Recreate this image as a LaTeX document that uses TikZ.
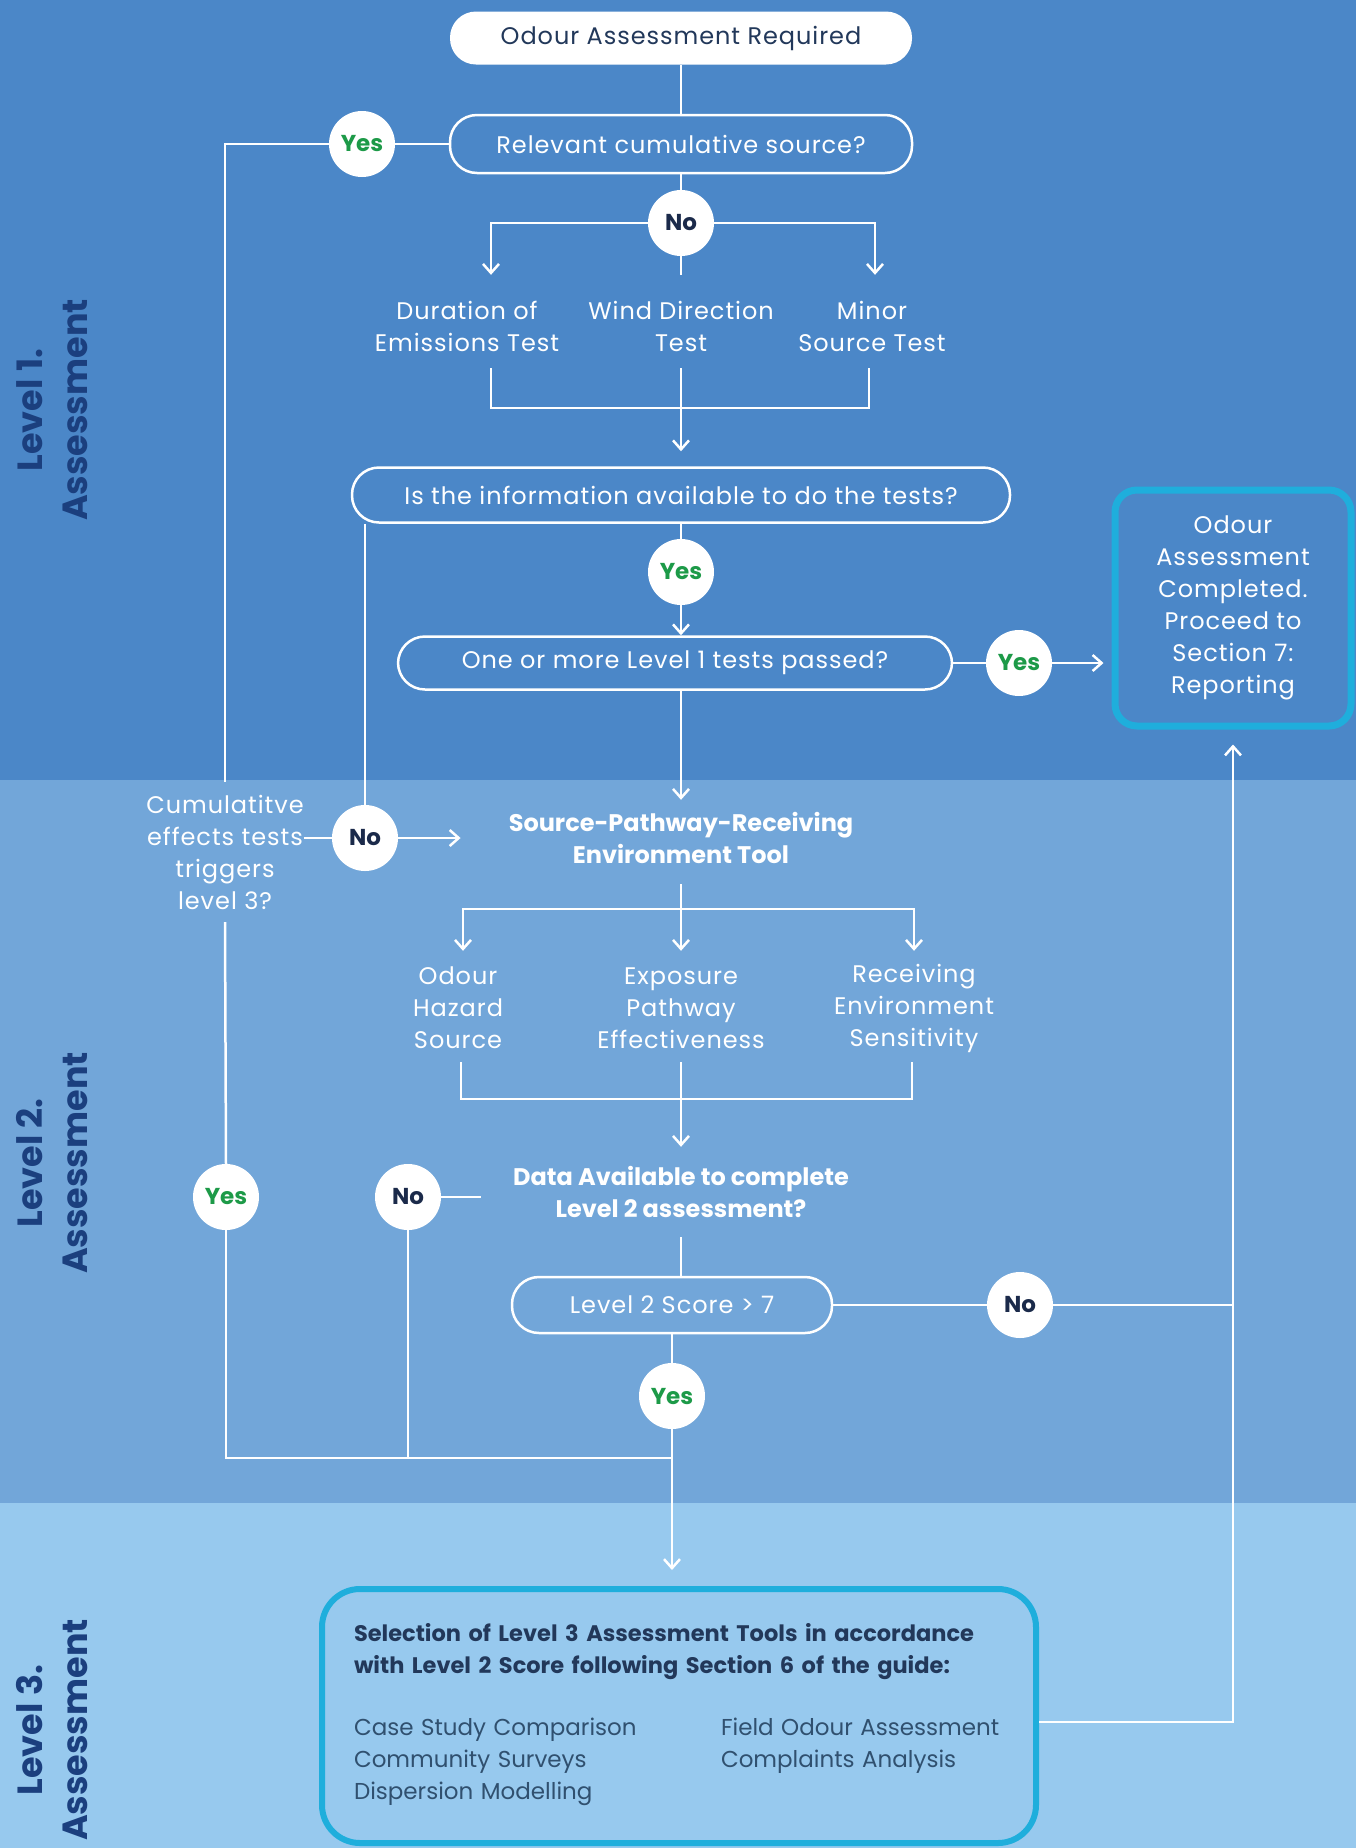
\documentclass[tikz,border=0pt]{standalone}
\usepackage{fontspec}
\setmainfont{Poppins}
\usetikzlibrary{arrows.meta, positioning}

\definecolor{levelone}{HTML}{4B87C8}
\definecolor{leveltwo}{HTML}{72A6D9}
\definecolor{levelthree}{HTML}{97C9EE}
\definecolor{cyanline}{HTML}{1FAEDC}
\definecolor{labelnavy}{HTML}{1B3F7E}
\definecolor{yesgreen}{HTML}{1D9A48}
\definecolor{nonavy}{HTML}{1B2A4A}
\definecolor{darktext}{HTML}{22385A}
\definecolor{listtext}{HTML}{30506F}

\newcommand{\flowfont}{\fontsize{24}{32}\selectfont\addfontfeature{LetterSpace=4}}
\newcommand{\flowbold}{\fontsize{24}{32}\selectfont\bfseries}

\tikzstyle{startbox} = [rectangle, rounded corners=26pt, minimum width=462pt, minimum height=53pt, text centered, fill=white, text=darktext, font=\flowfont]
\tikzstyle{question} = [rectangle, rounded corners=27pt, minimum height=55pt, text centered, draw=white, line width=2.5pt, text=white, font=\flowfont]
\tikzstyle{yesdot} = [circle, minimum size=66pt, inner sep=0pt, fill=white, text=yesgreen, font=\fontsize{23}{30}\selectfont\bfseries]
\tikzstyle{nodot} = [circle, minimum size=66pt, inner sep=0pt, fill=white, text=nonavy, font=\fontsize{23}{30}\selectfont\bfseries]
\tikzstyle{testtxt} = [align=center, inner sep=0pt, text=white, font=\flowfont]
\tikzstyle{boldtxt} = [align=center, inner sep=0pt, text=white, font=\flowbold]
\tikzstyle{endbox} = [rectangle, rounded corners=22pt, draw=cyanline, line width=7pt, minimum width=236pt, minimum height=236pt, align=center, text=white, font=\flowfont]
\tikzstyle{toolbox} = [rectangle, rounded corners=38pt, draw=cyanline, line width=6pt, minimum width=714pt, minimum height=254pt, text width=650pt, align=left, text=darktext, font=\fontsize{22.5}{32}\selectfont]
\tikzstyle{levellabel} = [rotate=90, align=center, text=labelnavy, font=\fontsize{35}{45}\selectfont\bfseries]
\tikzstyle{link} = [draw=white, line width=2.5pt]
\tikzstyle{arrow} = [link, -{Straight Barb[length=9pt, width=16pt]}]

\begin{document}
\begin{tikzpicture}[x=1pt, y=1pt]

    % Bands
    \fill [levelone] (0,0) rectangle (1356,-780);
    \fill [leveltwo] (0,-780) rectangle (1356,-1503);
    \fill [levelthree] (0,-1503) rectangle (1356,-1848);
    \useasboundingbox (0,0) rectangle (1356,-1848);

    % Level labels
    \node (labelone) [levellabel] at (52,-410) {Level 1.\\Assessment};
    \node (labeltwo) [levellabel] at (52,-1163) {Level 2.\\Assessment};
    \node (labelthree) [levellabel] at (52,-1730) {Level 3.\\Assessment};

    % Level 1
    \node (req) [startbox] at (681,-38) {Odour Assessment Required};
    \node (cumsrc) [question, minimum width=462pt, minimum height=58pt, below of=req, node distance=106pt] {Relevant cumulative source?};
    \node (yes1) [yesdot, left of=cumsrc, node distance=319pt] {Yes};
    \node (no1) [nodot, below of=cumsrc, node distance=79pt] {No};
    \node (wind) [testtxt, minimum height=84pt, below of=no1, node distance=103pt] {Wind Direction\\Test};
    \node (dur) [testtxt, minimum height=84pt, left of=wind, node distance=214pt] {Duration of\\Emissions Test};
    \node (minor) [testtxt, minimum height=84pt, right of=wind, node distance=191pt] {Minor\\Source Test};
    \node (info) [question, minimum width=658pt, below of=wind, node distance=169pt] {Is the information available to do the tests?};
    \node (yes2) [yesdot, below of=info, node distance=77pt] {Yes};
    \node (passed) [question, minimum width=554pt, minimum height=53pt, below of=yes2, node distance=91pt, xshift=-6pt] {One or more Level 1 tests passed?};
    \node (yes3) [yesdot, right of=passed, node distance=344pt] {Yes};
    \node (done) [endbox, right of=yes3, node distance=214pt, yshift=55pt] {Odour\\Assessment\\Completed.\\Proceed to\\Section 7:\\Reporting};

    % Level 2
    \node (spr) [boldtxt, minimum height=76pt, below of=passed, node distance=175pt, xshift=6pt] {Source-Pathway-Receiving\\Environment Tool};
    \node (no2) [nodot, left of=spr, node distance=316pt] {No};
    \node (cum) [testtxt, minimum height=140pt, left of=no2, node distance=140pt, yshift=-14pt] {Cumulatitve\\effects tests\\triggers\\level 3?};
    \node (expo) [testtxt, minimum height=108pt, below of=spr, node distance=170pt] {Exposure\\Pathway\\Effectiveness};
    \node (odour) [testtxt, minimum height=108pt, left of=expo, node distance=223pt] {Odour\\Hazard\\Source};
    \node (recv) [testtxt, minimum height=108pt, right of=expo, node distance=233pt] {Receiving\\Environment\\Sensitivity};
    \node (data) [boldtxt, minimum height=90pt, below of=expo, node distance=184pt] {Data Available to complete\\Level 2 assessment?};
    \node (no3) [nodot, left of=data, node distance=273pt, yshift=-5pt] {No};
    \node (yes4) [yesdot, left of=no3, node distance=182pt] {Yes};
    \node (score) [question, minimum width=320pt, minimum height=56pt, below of=data, node distance=113pt, xshift=-9pt] {Level 2 Score > 7};
    \node (no4) [nodot, right of=score, node distance=348pt] {No};
    \node (yes5) [yesdot, below of=score, node distance=91pt] {Yes};

    % Level 3
    \node (lvl3) [toolbox, below of=yes5, node distance=320pt, xshift=7pt] {\bfseries Selection of Level 3 Assessment Tools in accordance\\
        with Level 2 Score following Section 6 of the guide:\\[30pt]
        \mdseries\fontsize{23}{32}\selectfont\color{listtext}\begin{tabular}[t]{@{}p{367pt}@{}l@{}}
            Case Study Comparison & Field Odour Assessment\\
            Community Surveys & Complaints Analysis\\
            Dispersion Modelling &
        \end{tabular}};

    % Arrows for Level 1
    \draw [link] (req.south) -- (cumsrc.north);
    \draw [link] (cumsrc.west) -- (yes1.east);
    \draw [link] (yes1.west) -| (cum.north);
    \draw [link] (cumsrc.south) -- (no1.north);
    \draw [arrow, shorten >=9pt] (no1.west) -| ([xshift=24pt]dur.north);
    \draw [arrow, shorten >=9pt] (no1.east) -| ([xshift=3pt]minor.north);
    \draw [link, shorten >=9pt] (no1.south) -- (wind.north);
    \draw [link] ([xshift=24pt]dur.south) -- ++(0,-40) -| ([xshift=-3pt]minor.south);
    \draw [arrow, shorten >=15pt] (wind.south) -- (info.north);
    \draw [link] (info.south) -- (yes2.north);
    \draw [link] (info.south -| no2.north) -- (no2.north);
    \draw [arrow] (yes2.south) -- (yes2.south |- passed.north);
    \draw [link] (passed.east) -- (yes3.west);
    \draw [arrow, shorten >=8pt] (yes3.east) -- (yes3.east -| done.west);
    \draw [arrow] (passed.south -| spr.north) -- (spr.north);

    % Arrows for Level 2
    \draw [link] (cum.east |- no2.west) -- (no2.west);
    \draw [arrow, shorten >=48pt] (no2.east) -- (spr.west);
    \draw [link] (cum.south) -- (yes4.north);
    \coordinate (split) at ([yshift=-33pt]spr.south);
    \draw [arrow, shorten <=8pt, shorten >=3pt] (spr.south) -- (expo.north);
    \draw [arrow, shorten >=3pt] (split) -| ([xshift=5pt]odour.north);
    \draw [arrow, shorten >=3pt] (split) -| (recv.north);
    \draw [link] ([xshift=3pt]odour.south) -- ++(0,-37) -| ([xshift=-2pt]recv.south);
    \draw [arrow] (expo.south) -- (data.north);
    \draw [link, shorten >=32pt] (no3.east) -- (no3.east -| data.west);
    \draw [link] (data.south) -- (data.south |- score.north);
    \draw [link] (score.east) -- (no4.west);
    \draw [link] (no4.east) -- (no4.east -| done.south);
    \draw [link] (score.south) -- (yes5.north);

    % Arrows into Level 3 and back
    \coordinate (join) at ([yshift=-29pt]yes5.south);
    \draw [link] (yes4.south) |- (join);
    \draw [link] (no3.south) -- (no3.south |- join);
    \draw [arrow, shorten >=16pt] (yes5.south) -- (yes5.south |- lvl3.north);
    \draw [arrow, shorten >=15pt] ([yshift=-6pt]lvl3.east) -| (done.south);

\end{tikzpicture}
\end{document}
